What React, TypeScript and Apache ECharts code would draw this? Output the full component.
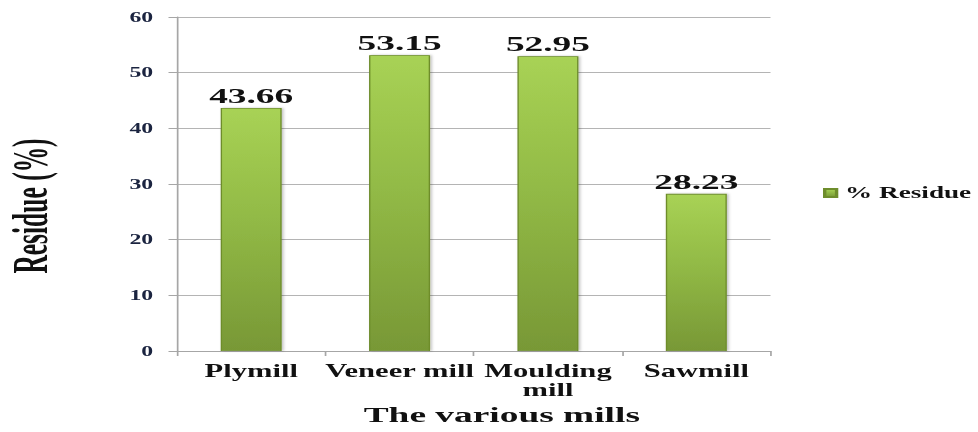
import React, { useEffect, useRef } from "react";
import * as echarts from "echarts";

const categories = ["Plymill", "Veneer mill", "Moulding\nmill", "Sawmill"];
const residueValues = [43.66, 53.15, 52.95, 28.23];
const seriesName = "% Residue";
const yTicks = { min: 0, max: 60, interval: 10 };

// The reference picture is stretched horizontally; reproduce that by drawing
// a narrower chart and stretching it with a CSS transform.
const STRETCH = 1.7;
const W = 978 / STRETCH;

export default function App() {
  const ref = useRef<HTMLDivElement>(null);
  useEffect(() => {
    document.body.style.margin = "0";
    if (!ref.current) return;
    const chart = echarts.init(ref.current, null, { renderer: "svg" });
    const serif = "'Liberation Serif', 'Times New Roman', serif";
    const barColor = new echarts.graphic.LinearGradient(0, 0, 0, 1, [
      { offset: 0, color: "#a8d255" },
      { offset: 0.45, color: "#92ba46" },
      { offset: 1, color: "#789836" },
    ]);
    chart.setOption({
      animation: false,
      backgroundColor: "#ffffff",
      grid: {
        left: 177 / STRETCH,
        right: W - 771 / STRETCH,
        top: 17,
        bottom: 81,
        containLabel: false,
        outerBoundsMode: "none",
      },
      legend: {
        data: [seriesName],
        left: 823 / STRETCH,
        top: 185,
        padding: 0,
        itemWidth: 7,
        itemHeight: 8,
        itemGap: 4,
        icon: "rect",
        textStyle: { fontFamily: serif, fontWeight: "bold", fontSize: 16, color: "#111111", padding: [0, 0, 0, 0] },
      },
      xAxis: {
        type: "category",
        data: categories,
        axisLine: { show: true, lineStyle: { color: "#a6a6a6", width: 1 } },
        axisTick: { show: true, length: 5, lineStyle: { color: "#a6a6a6" } },
        axisLabel: {
          fontFamily: serif,
          fontWeight: "bold",
          fontSize: 18,
          color: "#111111",
          margin: 10,
          lineHeight: 19,
          interval: 0,
        },
        name: "The various mills",
        nameLocation: "middle",
        nameGap: 51,
        nameTextStyle: {
          fontFamily: serif,
          fontWeight: "bold",
          fontSize: 22,
          color: "#111111",
          padding: [0, 0, 0, 33],
        },
      },
      yAxis: {
        type: "value",
        min: yTicks.min,
        max: yTicks.max,
        interval: yTicks.interval,
        axisLine: { show: true, lineStyle: { color: "#a6a6a6", width: 1 } },
        axisTick: { show: true, length: 5, lineStyle: { color: "#a6a6a6" } },
        splitLine: { show: true, lineStyle: { color: "#b4b4b4", width: 1 } },
        axisLabel: {
          fontFamily: serif,
          fontWeight: "bold",
          fontSize: 14,
          color: "#1b2440",
          margin: 14,
        },
      },
      graphic: [
        {
          type: "text",
          x: 30 / STRETCH,
          y: 206,
          rotation: Math.PI / 2,
          scaleX: 0.85,
          style: {
            text: "Residue (%)",
            fontFamily: serif,
            fontWeight: "bold",
            fontSize: 30,
            fill: "#111111",
            textAlign: "center",
            textVerticalAlign: "middle",
          },
        },
      ],
      series: [
        {
          name: seriesName,
          type: "bar",
          data: residueValues,
          barWidth: 61 / STRETCH,
          itemStyle: {
            color: barColor,
            borderColor: "#6e8d2c",
            borderWidth: 0.8,
            shadowColor: "rgba(0,0,0,0.25)",
            shadowBlur: 2,
            shadowOffsetX: 1,
          },
          label: {
            show: true,
            position: "top",
            distance: 1,
            formatter: (p: any) => p.value.toFixed(2),
            fontFamily: serif,
            fontWeight: "bold",
            fontSize: 22,
            color: "#111111",
          },
        },
      ],
    });
    return () => chart.dispose();
  }, []);
  return (
    <div
      ref={ref}
      style={{ width: W, height: 432, transform: `scaleX(${STRETCH})`, transformOrigin: "0 0" }}
    />
  );
}
